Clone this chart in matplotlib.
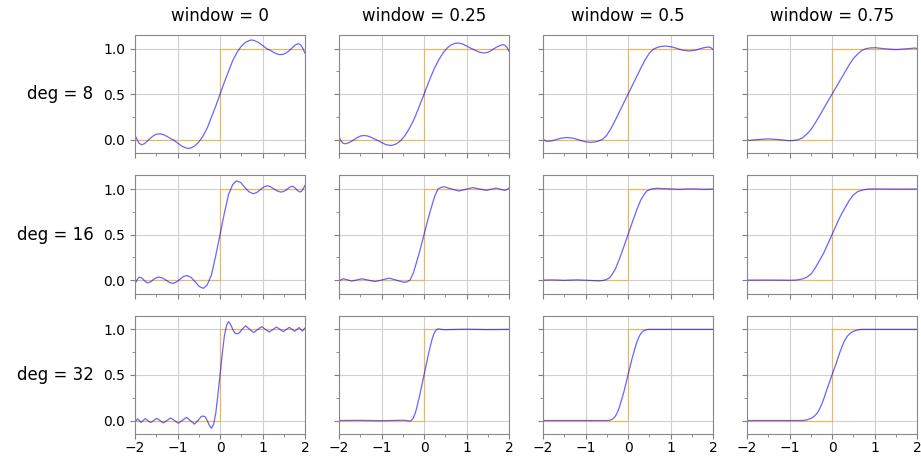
import matplotlib
matplotlib.use("Agg")
import matplotlib.pyplot as plt
from matplotlib.ticker import MultipleLocator

degrees = [8, 16, 32]
windows = [0, 0.25, 0.5, 0.75]

# target step function
step_x = [-2, 0, 0, 2]
step_y = [0, 0, 1, 1]

# approximations
x_d8_w0 = [-2.0, -1.95, -1.9, -1.84, -1.77, -1.7, -1.62, -1.55, -1.48, -1.4, -1.32, -1.24, -1.16, -1.1, -1.0,
           -0.9, -0.8, -0.75, -0.7, -0.6, -0.5, -0.4, -0.3, -0.2, -0.1, 0.0, 0.1, 0.2, 0.3, 0.4, 0.5, 0.6, 0.7,
           0.75, 0.8, 0.9, 1.0, 1.1, 1.16, 1.24, 1.32, 1.4, 1.48, 1.55, 1.62, 1.7, 1.77, 1.84, 1.9, 1.95, 2.0]
y_d8_w0 = [0.05, 0.0, -0.04, -0.055, -0.04, -0.01, 0.025, 0.05, 0.063, 0.065, 0.055, 0.035, 0.012, 0.0, -0.035,
           -0.07, -0.09, -0.095, -0.092, -0.07, -0.025, 0.04, 0.13, 0.25, 0.37, 0.5, 0.63, 0.75, 0.87, 0.96, 1.025,
           1.07, 1.092, 1.095, 1.09, 1.07, 1.035, 1.0, 0.988, 0.965, 0.945, 0.935, 0.937, 0.95, 0.975, 1.01, 1.04,
           1.055, 1.04, 1.0, 0.95]

x_d8_w25 = [-2.0, -1.95, -1.9, -1.86, -1.8, -1.72, -1.63, -1.55, -1.48, -1.41, -1.33, -1.25, -1.17, -1.1, -1.0,
            -0.9, -0.82, -0.76, -0.65, -0.55, -0.45, -0.35, -0.25, -0.15, -0.05, 0.05, 0.15, 0.25, 0.35, 0.45,
            0.55, 0.65, 0.76, 0.82, 0.9, 1.0, 1.1, 1.17, 1.25, 1.33, 1.41, 1.48, 1.55, 1.63, 1.72, 1.8, 1.86, 1.9,
            1.95, 2.0]
y_d8_w25 = [0.03, -0.015, -0.038, -0.044, -0.038, -0.02, 0.005, 0.03, 0.043, 0.047, 0.042, 0.028, 0.01, -0.005,
            -0.03, -0.052, -0.06, -0.062, -0.045, -0.01, 0.045, 0.12, 0.21, 0.32, 0.44, 0.56, 0.68, 0.79, 0.88,
            0.955, 1.01, 1.045, 1.062, 1.06, 1.052, 1.03, 1.005, 0.99, 0.972, 0.958, 0.953, 0.957, 0.97, 0.995,
            1.02, 1.038, 1.044, 1.038, 1.015, 0.97]

x_d8_w50 = [-2.0, -1.95, -1.9, -1.8, -1.7, -1.6, -1.45, -1.3, -1.2, -1.1, -1.0, -0.88, -0.78, -0.7, -0.6, -0.5,
            -0.4, -0.3, -0.2, -0.1, 0.0, 0.1, 0.2, 0.3, 0.4, 0.5, 0.6, 0.7, 0.78, 0.88, 1.0, 1.1, 1.2, 1.3, 1.45,
            1.6, 1.7, 1.8, 1.9, 1.95, 2.0]
y_d8_w50 = [0.01, -0.01, -0.018, -0.012, 0.0, 0.015, 0.025, 0.018, 0.005, -0.01, -0.022, -0.028, -0.024, -0.015,
            0.005, 0.05, 0.125, 0.215, 0.31, 0.405, 0.5, 0.595, 0.69, 0.785, 0.875, 0.95, 0.995, 1.015, 1.024,
            1.028, 1.022, 1.01, 0.995, 0.982, 0.975, 0.985, 1.0, 1.012, 1.018, 1.01, 0.99]

x_d8_w75 = [-2.0, -1.95, -1.8, -1.5, -1.25, -1.03, -0.9, -0.8, -0.7, -0.6, -0.5, -0.4, -0.3, -0.2, -0.1, 0.0,
            0.1, 0.2, 0.3, 0.4, 0.5, 0.6, 0.7, 0.8, 0.9, 1.03, 1.25, 1.5, 1.8, 1.95, 2.0]
y_d8_w75 = [0.0, -0.007, 0.0, 0.01, 0.002, -0.01, -0.008, 0.0, 0.02, 0.06, 0.11, 0.18, 0.26, 0.34, 0.42, 0.5,
            0.58, 0.66, 0.74, 0.82, 0.89, 0.94, 0.98, 1.0, 1.008, 1.01, 0.998, 0.99, 1.0, 1.007, 1.0]

x_d16_w0 = [-2.0, -1.96, -1.92, -1.88, -1.83, -1.78, -1.73, -1.69, -1.62, -1.56, -1.49, -1.43, -1.35, -1.27,
            -1.19, -1.11, -1.03, -0.94, -0.86, -0.78, -0.68, -0.58, -0.49, -0.39, -0.3, -0.2, -0.1, 0.0, 0.1, 0.2,
            0.3, 0.39, 0.49, 0.58, 0.68, 0.78, 0.86, 0.94, 1.03, 1.11, 1.19, 1.27, 1.35, 1.43, 1.49, 1.56, 1.62,
            1.69, 1.73, 1.78, 1.83, 1.88, 1.92, 1.96, 2.0]
y_d16_w0 = [-0.04, -0.005, 0.025, 0.033, 0.02, -0.005, -0.025, -0.03, -0.015, 0.01, 0.028, 0.033, 0.022, 0.0,
            -0.025, -0.036, -0.022, 0.01, 0.04, 0.051, 0.03, -0.02, -0.07, -0.09, -0.05, 0.06, 0.27, 0.5, 0.73,
            0.94, 1.05, 1.09, 1.07, 1.02, 0.97, 0.949, 0.96, 0.99, 1.022, 1.036, 1.025, 1.0, 0.978, 0.967, 0.972,
            0.99, 1.015, 1.03, 1.025, 1.005, 0.98, 0.967, 0.975, 1.005, 1.04]

x_d16_w25 = [-2.0, -1.95, -1.9, -1.8, -1.7, -1.58, -1.47, -1.31, -1.15, -0.98, -0.82, -0.65, -0.47, -0.4, -0.33,
             -0.25, -0.18, -0.1, 0.0, 0.1, 0.18, 0.25, 0.33, 0.4, 0.47, 0.65, 0.82, 0.98, 1.15, 1.31, 1.47, 1.58,
             1.7, 1.8, 1.9, 1.95, 2.0]
y_d16_w25 = [-0.01, 0.005, 0.015, 0.003, -0.01, 0.002, 0.015, 0.0, -0.015, 0.003, 0.022, 0.0, -0.025, -0.018,
             0.0, 0.08, 0.19, 0.32, 0.5, 0.68, 0.81, 0.92, 1.0, 1.018, 1.025, 1.0, 0.978, 0.997, 1.015, 1.0, 0.985,
             0.998, 1.01, 0.997, 0.985, 0.995, 1.01]

x_d16_w50 = [-2.0, -1.8, -1.5, -1.2, -0.9, -0.67, -0.55, -0.45, -0.4, -0.3, -0.2, -0.1, 0.0, 0.1, 0.2, 0.3, 0.4,
             0.45, 0.55, 0.67, 0.9, 1.2, 1.5, 1.8, 2.0]
y_d16_w50 = [0.0, 0.003, -0.002, 0.003, -0.003, -0.008, 0.0, 0.02, 0.045, 0.12, 0.235, 0.365, 0.5, 0.635, 0.765,
             0.88, 0.955, 0.98, 1.0, 1.008, 1.003, 0.997, 1.002, 0.997, 1.0]

x_d16_w75 = [-2.0, -1.5, -1.0, -0.87, -0.8, -0.7, -0.6, -0.5, -0.4, -0.3, -0.2, -0.1, 0.0, 0.1, 0.2, 0.3, 0.4,
             0.5, 0.6, 0.7, 0.8, 0.87, 1.0, 1.5, 2.0]
y_d16_w75 = [0.0, 0.001, -0.001, 0.0, 0.004, 0.013, 0.03, 0.065, 0.13, 0.21, 0.295, 0.395, 0.5, 0.605, 0.705,
             0.79, 0.87, 0.935, 0.97, 0.987, 0.996, 1.0, 1.001, 0.999, 1.0]

x_d32_w0 = [-2.0, -1.97, -1.94, -1.9, -1.86, -1.81, -1.76, -1.7, -1.63, -1.56, -1.49, -1.41, -1.33, -1.25, -1.16,
            -1.07, -0.98, -0.89, -0.79, -0.7, -0.6, -0.5, -0.45, -0.4, -0.35, -0.3, -0.25, -0.2, -0.15, -0.1,
            -0.05, 0.0, 0.05, 0.1, 0.15, 0.2, 0.25, 0.3, 0.35, 0.4, 0.45, 0.5, 0.6, 0.7, 0.79, 0.89, 0.98, 1.07,
            1.16, 1.25, 1.33, 1.41, 1.49, 1.56, 1.63, 1.7, 1.76, 1.81, 1.86, 1.9, 1.94, 1.97, 2.0]
y_d32_w0 = [-0.015, 0.0, 0.018, 0.0, -0.02, 0.0, 0.02, 0.0, -0.022, 0.0, 0.024, 0.0, -0.026, 0.0, 0.028, 0.0,
            -0.03, 0.0, 0.035, 0.0, -0.04, 0.01, 0.04, 0.05, 0.04, 0.0, -0.055, -0.085, -0.04, 0.08, 0.28, 0.5,
            0.72, 0.92, 1.04, 1.085, 1.055, 1.0, 0.96, 0.95, 0.96, 0.99, 1.04, 1.0, 0.965, 1.0, 1.03, 1.0, 0.972,
            1.0, 1.026, 1.0, 0.976, 1.0, 1.022, 1.0, 0.98, 1.0, 1.02, 1.0, 0.982, 1.0, 1.015]

x_d32_w25 = [-2.0, -1.5, -1.0, -0.5, -0.4, -0.34, -0.3, -0.25, -0.2, -0.15, -0.1, -0.05, 0.0, 0.05, 0.1, 0.15,
             0.2, 0.25, 0.3, 0.34, 0.4, 0.5, 1.0, 1.5, 2.0]
y_d32_w25 = [0.0, 0.002, -0.002, 0.003, 0.0, -0.006, 0.0, 0.03, 0.09, 0.18, 0.28, 0.39, 0.5, 0.61, 0.72, 0.82,
             0.91, 0.97, 1.0, 1.006, 1.0, 0.997, 1.002, 0.998, 1.0]

x_d32_w50 = [-2.0, -1.0, -0.5, -0.45, -0.4, -0.35, -0.3, -0.25, -0.2, -0.15, -0.1, -0.05, 0.0, 0.05, 0.1, 0.15,
             0.2, 0.25, 0.3, 0.35, 0.4, 0.45, 0.5, 1.0, 2.0]
y_d32_w50 = [0.0, 0.0, 0.0, 0.002, 0.008, 0.02, 0.045, 0.09, 0.15, 0.23, 0.31, 0.405, 0.5, 0.595, 0.69, 0.77,
             0.85, 0.91, 0.955, 0.98, 0.992, 0.998, 1.0, 1.0, 1.0]

x_d32_w75 = [-2.0, -0.7, -0.6, -0.5, -0.45, -0.4, -0.35, -0.3, -0.25, -0.2, -0.15, -0.1, -0.05, 0.0, 0.05, 0.1,
             0.15, 0.2, 0.25, 0.3, 0.35, 0.4, 0.45, 0.5, 0.6, 0.7, 2.0]
y_d32_w75 = [0.0, 0.0, 0.006, 0.022, 0.035, 0.055, 0.08, 0.12, 0.17, 0.23, 0.3, 0.37, 0.435, 0.5, 0.565, 0.63,
             0.7, 0.77, 0.83, 0.88, 0.92, 0.945, 0.965, 0.978, 0.994, 1.0, 1.0]

curves = [
    [(x_d8_w0, y_d8_w0), (x_d8_w25, y_d8_w25), (x_d8_w50, y_d8_w50), (x_d8_w75, y_d8_w75)],
    [(x_d16_w0, y_d16_w0), (x_d16_w25, y_d16_w25), (x_d16_w50, y_d16_w50), (x_d16_w75, y_d16_w75)],
    [(x_d32_w0, y_d32_w0), (x_d32_w25, y_d32_w25), (x_d32_w50, y_d32_w50), (x_d32_w75, y_d32_w75)],
]

fig, axes = plt.subplots(3, 4, figsize=(9.21, 4.58), dpi=100, sharex=True, sharey=True)
fig.subplots_adjust(left=0.1466, right=0.9957, top=0.9236, bottom=0.052, wspace=0.2, hspace=0.185)

for i, deg in enumerate(degrees):
    for j, w in enumerate(windows):
        ax = axes[i, j]
        xs, ys = curves[i][j]
        ax.plot(step_x, step_y, color='orange', alpha=0.55, lw=0.9)
        ax.plot(xs, ys, color='blue', alpha=0.6, lw=0.9)
        ax.set_xlim(-2, 2)
        ax.set_ylim(-0.15, 1.15)
        ax.set_xticks([-2, -1, 0, 1, 2])
        ax.set_yticks([0.0, 0.5, 1.0])
        ax.xaxis.set_minor_locator(MultipleLocator(0.5))
        ax.yaxis.set_minor_locator(MultipleLocator(0.25))
        ax.grid(True, color='#d0d0d0', lw=0.8)
        ax.set_axisbelow(True)
        ax.tick_params(which='both', direction='out', color='#808080', labelsize=10)
        ax.tick_params(which='major', length=3.5)
        ax.tick_params(which='minor', length=2.5)
        ax.tick_params(axis='x', pad=1.5)
        for s in ax.spines.values():
            s.set_color('#888888')
        if i == 0:
            ax.set_title(f"window = {w}", fontsize=12, pad=10)
        if j == 0:
            ax.set_ylabel(f"deg = {deg}", rotation=0, ha='right', va='center', labelpad=7, fontsize=12)

fig.savefig("out.png", dpi=100)
